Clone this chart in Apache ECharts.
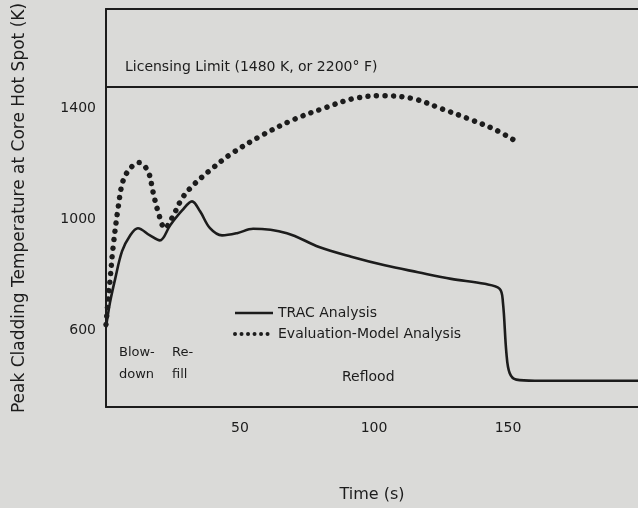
<!DOCTYPE html>
<html>
<head>
<meta charset="utf-8">
<script src="https://cdn.jsdelivr.net/npm/echarts@6.0.0/dist/echarts.min.js"></script>
<style>
  html, body { margin: 0; padding: 0; background: #dadad8; }
  #chart { width: 638px; height: 508px; }
</style>
</head>
<body>
<div id="chart"></div>
<script>
// TRAC analysis (solid curve): time (s) / temperature (K)
const tracTime = [0, 1.5, 3.4, 6.0, 9.0, 11.9, 16.4, 20.1, 23.9, 28.4, 32.1, 35.1, 38.8, 43.3, 48.9, 54.9,
  67.5, 79.5, 91.5, 104, 116.4, 128.8, 141.3, 146.9, 148.1, 149.4, 150.6, 153.1, 160, 198.5];
const tracTemp = [610, 700, 784, 885, 942, 968, 942, 924, 978, 1032, 1065, 1029, 968, 942, 950, 966,
  950, 900, 865, 834, 809, 785, 767, 749, 700, 517, 445, 421, 417, 417];

// Evaluation-model analysis (dotted curve)
const evalTime = [0, 0.7, 1.5, 2.6, 4.5, 6.3, 9.0, 12.3, 15.7, 17.5, 19.4, 22.0, 24.6, 28.4, 32.5, 38.8,
  46.3, 57.5, 69.9, 82.3, 92.3, 103, 114.6, 125.1, 135.1, 145, 152.5];
const evalTemp = [620, 700, 780, 895, 1040, 1137, 1184, 1205, 1173, 1101, 1029, 968, 1004, 1076, 1123, 1177,
  1234, 1300, 1360, 1405, 1436, 1447, 1436, 1400, 1364, 1325, 1285];

const licensingLimit = 1480;
const xTicks = [50, 100, 150];
const yTicks = [600, 1000, 1400];

const ink = '#1c1c1c';
const font = 'DejaVu Sans';
const dots = [0.01, 8.5];

const chart = echarts.init(document.getElementById('chart'));

const pairs = (xs, ys) => xs.map((x, i) => [x, ys[i]]);

chart.setOption({
  backgroundColor: '#dadad8',
  animation: false,
  textStyle: { fontFamily: font, color: ink },
  grid: { left: 106, right: 0, top: 9, bottom: 100 },
  legend: {
    orient: 'vertical',
    left: 228,
    top: 301,
    itemWidth: 38,
    itemHeight: 12,
    itemGap: 7,
    itemStyle: { opacity: 0 },
    textStyle: { fontFamily: font, fontSize: 14, color: ink },
    data: [
      { name: 'TRAC Analysis', lineStyle: { color: ink, width: 2.6, type: 'solid' } },
      { name: 'Evaluation-Model Analysis', lineStyle: { color: ink, width: 4, type: [0.01, 6.5], cap: 'round' } }
    ]
  },
  xAxis: [{
    type: 'value',
    min: 0,
    max: 198.5,
    name: 'Time (s)',
    nameLocation: 'middle',
    nameGap: 80,
    nameTextStyle: { fontFamily: font, fontSize: 16, color: ink },
    axisLine: { show: true, lineStyle: { color: ink, width: 2 } },
    axisTick: { show: false },
    splitLine: { show: false },
    axisLabel: { customValues: xTicks, margin: 14, fontSize: 14, color: ink, fontFamily: font, formatter: v => String(v) }
  }, {
    // top frame line
    type: 'value',
    position: 'top',
    min: 0,
    max: 198.5,
    axisLine: { show: true, lineStyle: { color: ink, width: 2 } },
    axisTick: { show: false },
    axisLabel: { show: false },
    splitLine: { show: false }
  }],
  yAxis: {
    type: 'value',
    min: 322,
    max: 1760,
    name: 'Peak Cladding Temperature at Core Hot Spot (K)',
    nameLocation: 'middle',
    nameGap: 78,
    nameTextStyle: { fontFamily: font, fontSize: 17, color: ink },
    axisLine: { show: true, lineStyle: { color: ink, width: 2 } },
    axisTick: { show: false },
    splitLine: { show: false },
    axisLabel: { customValues: yTicks, margin: 10, fontSize: 14, color: ink, fontFamily: font, formatter: v => String(v) }
  },
  series: [{
    name: 'TRAC Analysis',
    type: 'line',
    data: pairs(tracTime, tracTemp),
    smooth: 0.35,
    showSymbol: false,
    symbol: 'none',
    itemStyle: { color: ink },
    lineStyle: { color: ink, width: 2.6 },
    markLine: {
      silent: true,
      symbol: 'none',
      label: { show: false },
      lineStyle: { color: ink, width: 2, type: 'solid' },
      data: [{ yAxis: licensingLimit }]
    }
  }, {
    name: 'Evaluation-Model Analysis',
    type: 'line',
    data: pairs(evalTime, evalTemp),
    smooth: 0.35,
    showSymbol: false,
    symbol: 'none',
    itemStyle: { color: ink },
    lineStyle: { color: ink, width: 5.5, type: dots, cap: 'round' }
  }],
  graphic: [
    { type: 'text', left: 125, top: 60, style: { text: 'Licensing Limit (1480 K, or 2200° F)', font: '14px "DejaVu Sans"', fill: ink } },
    { type: 'text', left: 119, top: 342, style: { text: 'Blow-\ndown', font: '13px "DejaVu Sans"', fill: ink, lineHeight: 22 } },
    { type: 'text', left: 172, top: 342, style: { text: 'Re-\nfill', font: '13px "DejaVu Sans"', fill: ink, lineHeight: 22 } },
    { type: 'text', left: 342, top: 370, style: { text: 'Reflood', font: '14px "DejaVu Sans"', fill: ink } }
  ]
});
</script>
</body>
</html>
